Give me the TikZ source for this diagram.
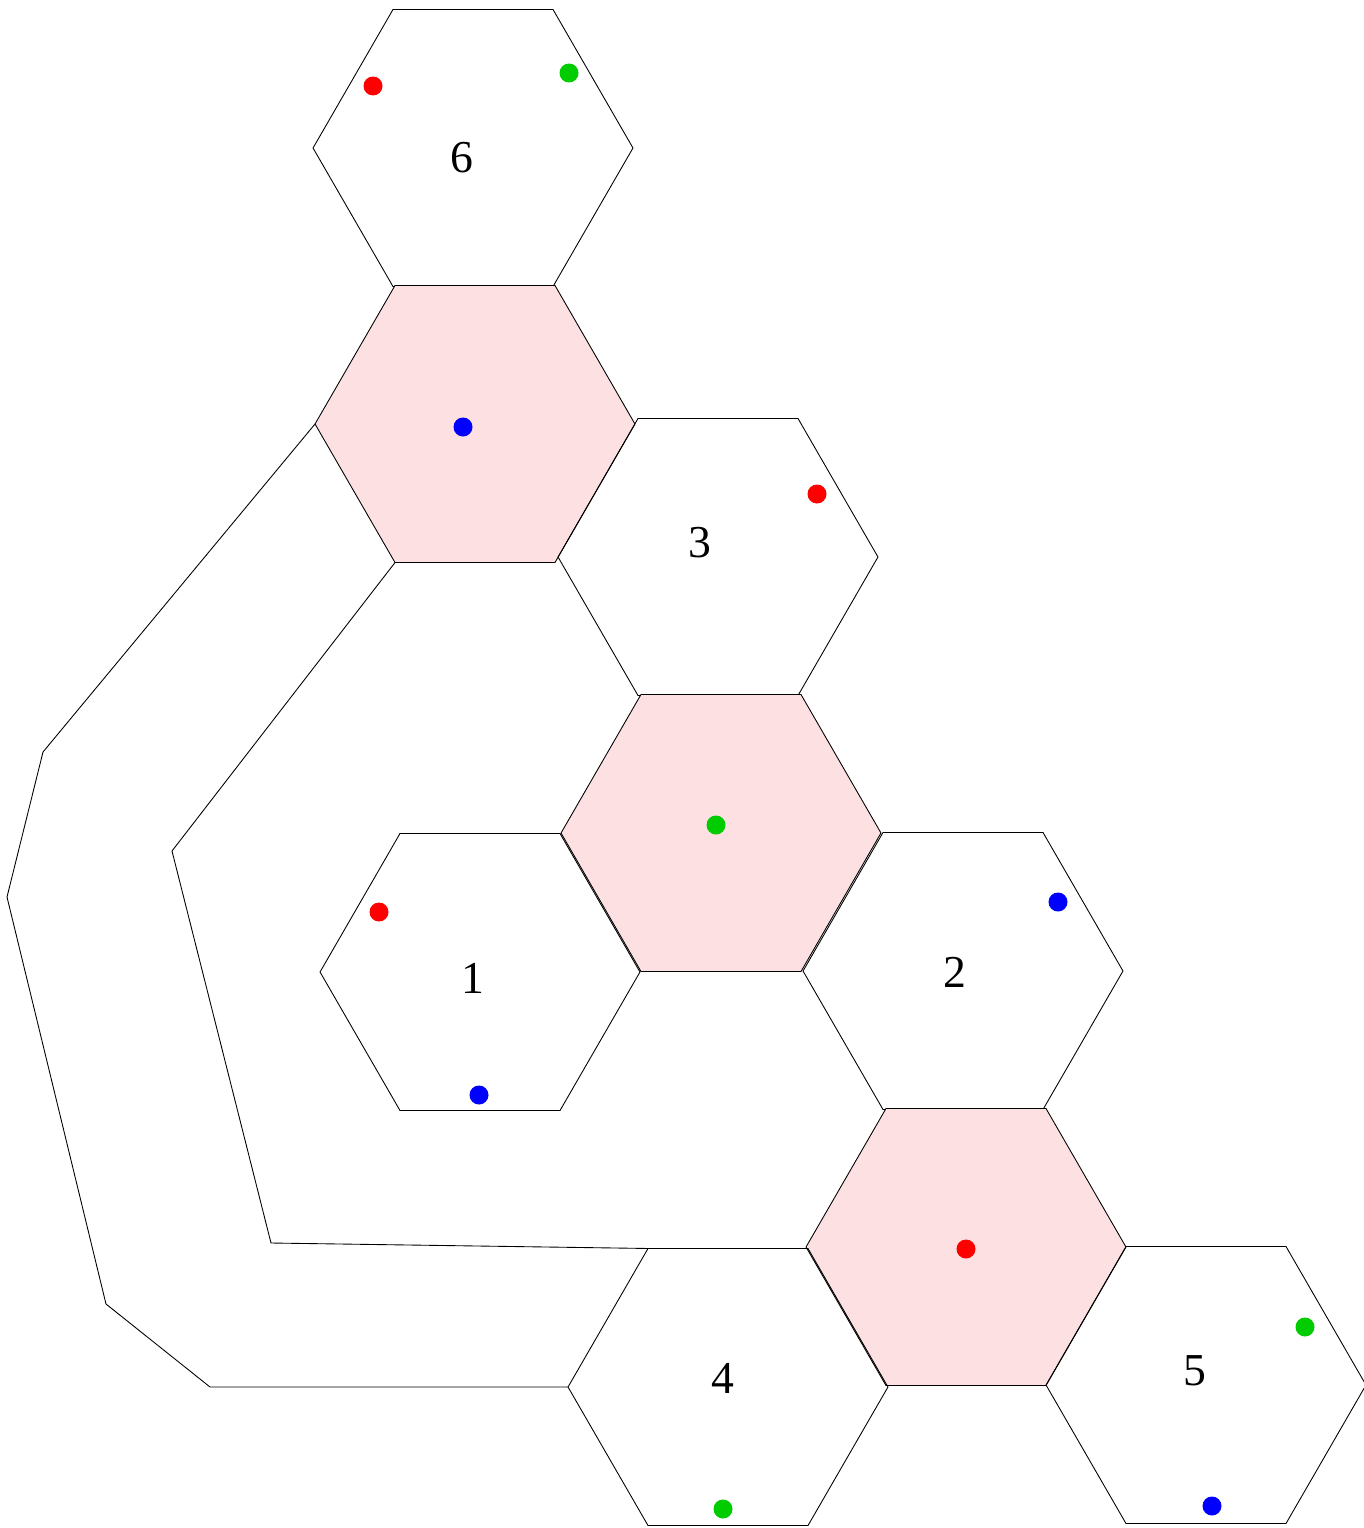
\documentclass[tikz,border=0pt]{standalone}
\usepackage{fontspec}
\setmainfont{Liberation Serif}
\usetikzlibrary{shapes.geometric}

\definecolor{cellpink}{RGB}{253,224,226}
\definecolor{dotgreen}{RGB}{0,204,0}

\begin{document}
\begin{tikzpicture}[x=0.02cm, y=-0.02cm, line width=0.5pt,
    hexcell/.style={draw, regular polygon, regular polygon sides=6,
                    minimum size=6.4cm, inner sep=0pt, outer sep=0pt},
    hexpink/.style={hexcell, fill=cellpink},
    cellnum/.style={font=\fontsize{26}{30}\selectfont, inner sep=0pt},
    dot/.style={circle, inner sep=0pt, minimum size=0.38cm}]
  \useasboundingbox (0,0) rectangle (1363,1528);

  % cells
  \node[hexcell] (h6) at (473,148) {};
  \node[hexpink] (pa) at (475,424) {};
  \node[hexcell] (h3) at (718,557) {};
  \node[hexpink] (pb) at (721,833) {};
  \node[hexcell] (h1) at (480,972) {};
  \node[hexcell] (h2) at (963,971) {};
  \node[hexpink] (pc) at (966,1247) {};
  \node[hexcell] (h4) at (728,1387) {};
  \node[hexcell] (h5) at (1206,1385) {};

  \node[cellnum] (n6) at (462,158) {6};
  \node[cellnum] (n3) at (700,543) {3};
  \node[cellnum] (n1) at (473,978) {1};
  \node[cellnum] (n2) at (955,972) {2};
  \node[cellnum] (n4) at (723,1378) {4};
  \node[cellnum] (n5) at (1195,1371) {5};

  % dots
  \node[dot, fill=red] (r6) at (373,86) {};
  \node[dot, fill=dotgreen] (g6) at (569,73) {};
  \node[dot, fill=blue] (ba) at (463,427) {};
  \node[dot, fill=red] (r3) at (817,494) {};
  \node[dot, fill=dotgreen] (gb) at (716,825) {};
  \node[dot, fill=red] (r1) at (379,912) {};
  \node[dot, fill=blue] (b1) at (479,1095) {};
  \node[dot, fill=blue] (b2) at (1058,902) {};
  \node[dot, fill=red] (rc) at (966,1249) {};
  \node[dot, fill=dotgreen] (g4) at (723,1509) {};
  \node[dot, fill=dotgreen] (g5) at (1305,1327) {};
  \node[dot, fill=blue] (b5) at (1212,1506) {};

  % links
  \draw (pa.west) -- (43,752) -- (7,897) -- (106,1304) -- (210,1387) -- (h4.west);
  \draw (pa.240) -- (172,851) -- (271,1243) -- (h4.120);
\end{tikzpicture}
\end{document}
